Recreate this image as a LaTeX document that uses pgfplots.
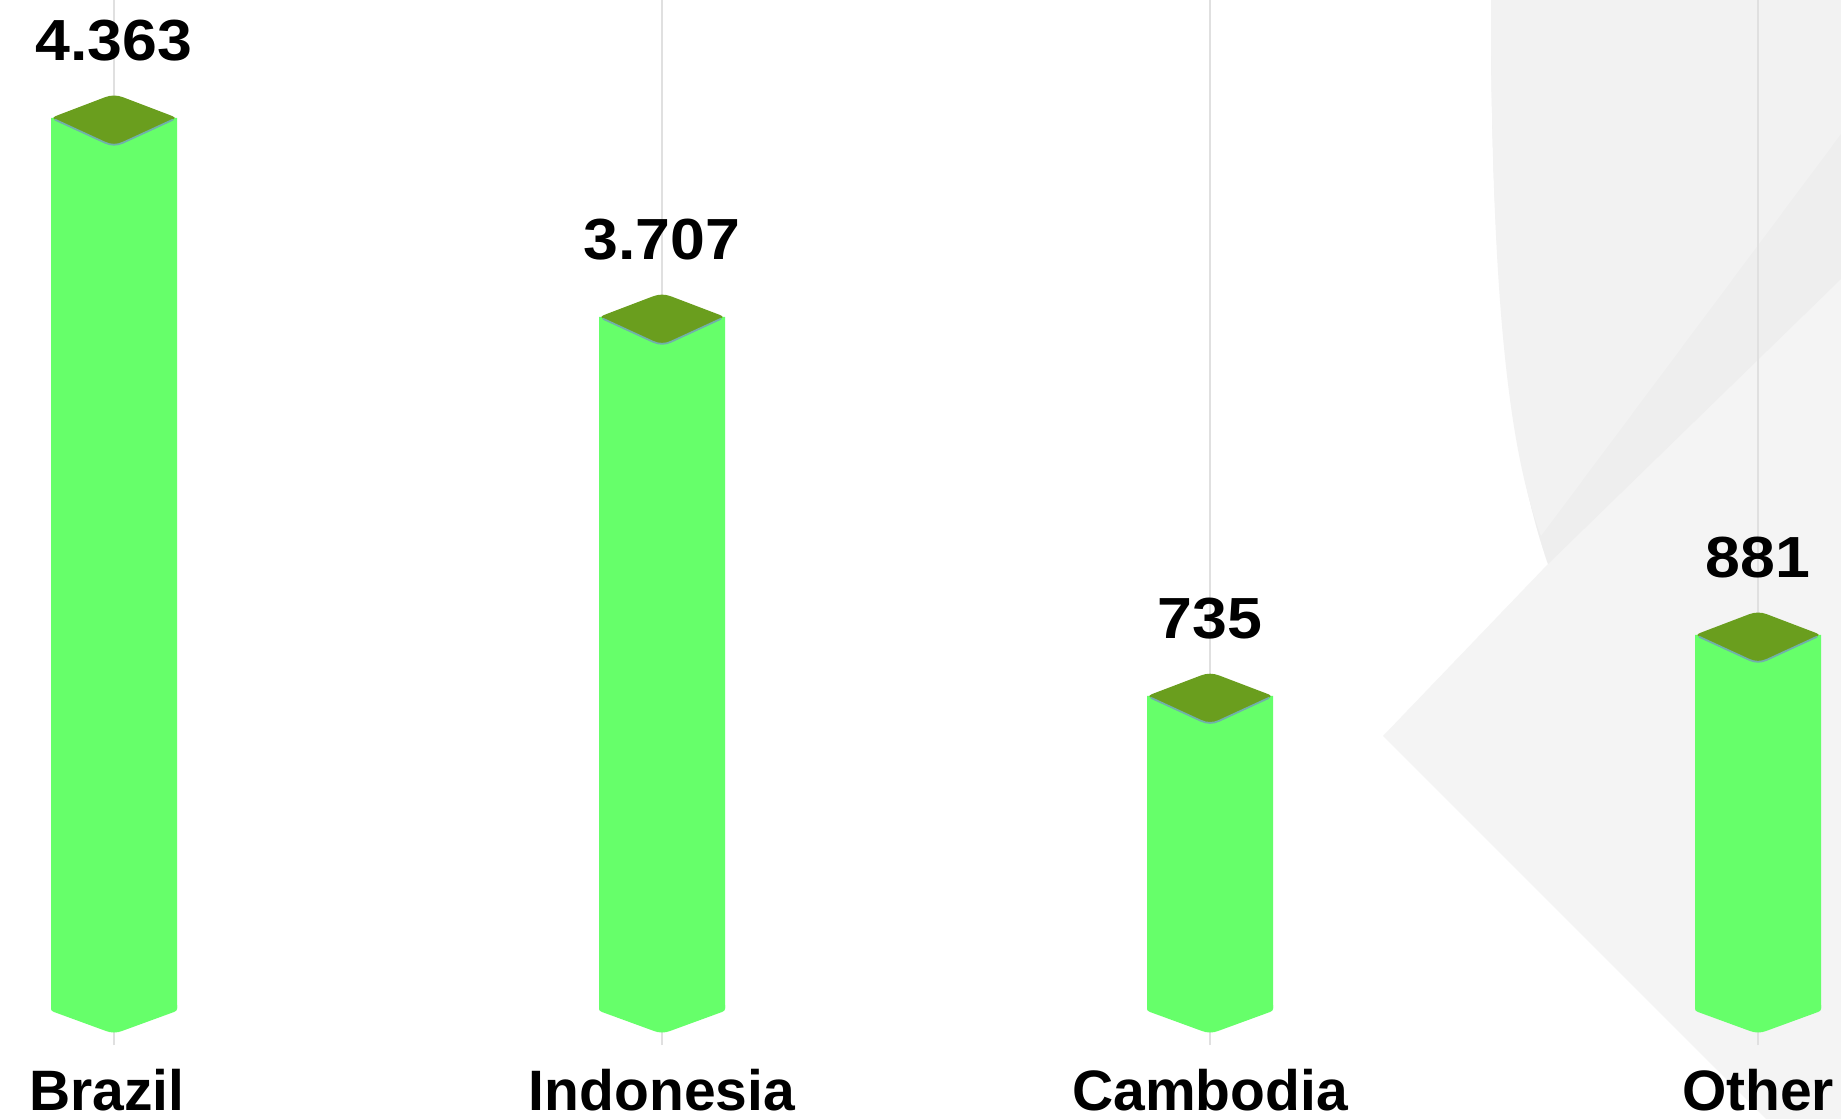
\documentclass[border=0pt]{standalone}
\usepackage{fontspec}
\setmainfont{Liberation Sans}
\newfontfamily\numfont{Liberation Sans}[FakeStretch=1.08]
\usepackage{pgfplots}
\pgfplotsset{compat=1.18}
\usepackage{pgfplotstable}
\definecolor{body}{RGB}{102,255,106}
\definecolor{topc}{RGB}{106,158,30}
\definecolor{edgec}{RGB}{112,176,170}
\definecolor{gridc}{RGB}{224,224,224}
\definecolor{bgA}{RGB}{244,244,244}
\definecolor{bgB}{RGB}{242,242,242}
\definecolor{bgC}{RGB}{238,238,238}

% h: bar height (scaled so that Cambodia = 735), label: printed value
\pgfplotstableread{
x base h label
0 0 2097 4.363
1 0 1628 3.707
2 0 735 735
3 0 879 881
}\datatab

\newcommand\pp[2]{\pgfpoint{#1pt}{#2pt}}
\pgfdeclareplotmark{prismtop}{%
  \pgfpathmoveto{\pp{-54}{3.43}}%
  \pgfpathlineto{\pp{-9}{20.57}}%
  \pgfpathcurveto{\pp{-3}{22.86}}{\pp{3}{22.86}}{\pp{9}{20.57}}%
  \pgfpathlineto{\pp{54}{3.43}}%
  \pgfpathcurveto{\pp{63}{0}}{\pp{63}{0}}{\pp{54}{-4.14}}%
  \pgfpathlineto{\pp{9}{-24.86}}%
  \pgfpathcurveto{\pp{3}{-27.6}}{\pp{-3}{-27.6}}{\pp{-9}{-24.86}}%
  \pgfpathlineto{\pp{-54}{-4.14}}%
  \pgfpathcurveto{\pp{-63}{0}}{\pp{-63}{0}}{\pp{-54}{3.43}}%
  \pgfpathclose
  \pgfsetfillcolor{topc}\pgfusepathqfill
  \pgfpathmoveto{\pp{-59}{-1.84}}%
  \pgfpathlineto{\pp{-9}{-24.86}}%
  \pgfpathcurveto{\pp{-3}{-27.6}}{\pp{3}{-27.6}}{\pp{9}{-24.86}}%
  \pgfpathlineto{\pp{59}{-1.84}}%
  \pgfsetlinewidth{1.8pt}\pgfsetstrokecolor{edgec}\pgfusepathqstroke
}
\pgfdeclareplotmark{prismbottom}{%
  \pgfpathmoveto{\pp{-63}{3}}%
  \pgfpathlineto{\pp{-63}{-1}}%
  \pgfpathcurveto{\pp{-63}{-2.5}}{\pp{-62}{-3}}{\pp{-60}{-4}}%
  \pgfpathlineto{\pp{-8}{-23}}%
  \pgfpathcurveto{\pp{-3}{-25}}{\pp{3}{-25}}{\pp{8}{-23}}%
  \pgfpathlineto{\pp{60}{-4}}%
  \pgfpathcurveto{\pp{62}{-3}}{\pp{63}{-2.5}}{\pp{63}{-1}}%
  \pgfpathlineto{\pp{63}{3}}%
  \pgfpathclose
  \pgfsetfillcolor{body}\pgfusepathqfill
}

\begin{document}
\begin{tikzpicture}[x=1pt,y=1pt]
\useasboundingbox (0,0) rectangle (1841,1119);
\clip (0,0) rectangle (1841,1119);
\fill[white] (0,0) rectangle (1841,1119);
% decorative background
\fill[bgA] (1491,1119) .. controls (1491,800) and (1515,650) .. (1548,555)
  -- (1383,383) -- (1766,0) -- (1841,0) -- (1841,1119) -- cycle;
\fill[bgC] (1491,1119) .. controls (1491,800) and (1515,650) .. (1548,555)
  -- (1841,840) -- (1841,1119) -- cycle;
\fill[bgB] (1491,1119) .. controls (1491,800) and (1512,660) .. (1541,583)
  -- (1841,985) -- (1841,1119) -- cycle;
\begin{axis}[
  at={(0pt,74pt)}, anchor=south west,
  scale only axis, width=1841pt, height=1045pt,
  xmin=-0.20803, xmax=3.15146,
  ymin=-87.16, ymax=2374.6,
  clip=false,
  axis line style={draw=none},
  tick style={draw=none},
  ytick=\empty,
  xtick={0,1,2,3},
  xticklabels={\hspace*{-14pt}Brazil,Indonesia,Cambodia,Other},
  xticklabel style={anchor=base, yshift=-65pt, inner sep=0pt,
    font=\fontsize{57}{60}\selectfont\bfseries, text=black},
  xmajorgrids,
  grid style={gridc, line width=1.5pt},
]
\addplot[ybar, bar width=126pt, fill=body, draw=none] table[x=x,y=h]{\datatab};
\addplot[only marks, mark=prismbottom] table[x=x,y=base]{\datatab};
\addplot[only marks, mark=prismtop,
  point meta=explicit symbolic,
  nodes near coords,
  every node near coord/.append style={anchor=base, yshift=57pt, inner sep=0pt,
    font=\numfont\fontsize{58}{60}\selectfont\bfseries, text=black}]
  table[x=x,y=h,meta=label]{\datatab};
\end{axis}
\end{tikzpicture}
\end{document}
